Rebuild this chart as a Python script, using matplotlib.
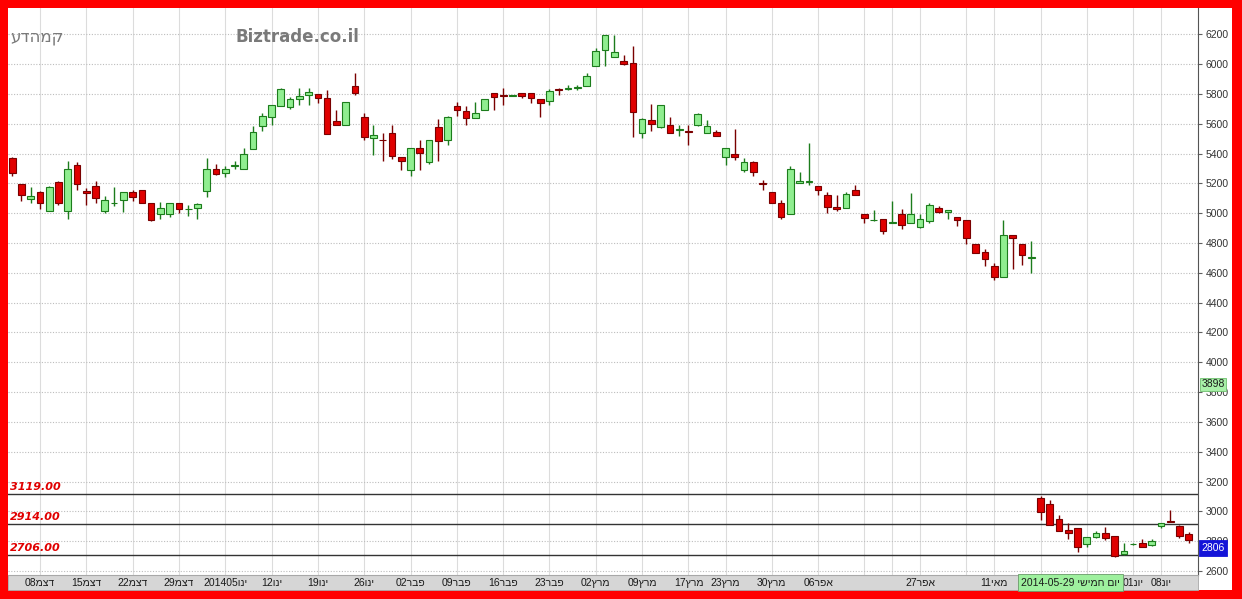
import matplotlib

matplotlib.use("Agg")
import matplotlib.pyplot as plt
import matplotlib.transforms as mtransforms
import numpy as np
from matplotlib.patches import Rectangle

# daily candles, Dec 2013 - Jun 2014 (agorot)
OPEN = [5370, 5196, 5096, 5143, 5016, 5210, 5016, 5326, 5147, 5185,
        5016, 5065, 5091, 5143, 5154, 5065, 4991, 4991, 5069, 5025,
        5036, 5147, 5297, 5270, 5315, 5297, 5430, 5582, 5644, 5716,
        5711, 5765, 5794, 5798, 5772, 5616, 5593, 5854, 5644, 5504,
        5490, 5537, 5377, 5292, 5437, 5341, 5578, 5488, 5716, 5682,
        5638, 5694, 5805, 5790, 5787, 5805, 5809, 5765, 5752, 5830,
        5836, 5841, 5850, 5990, 6091, 6046, 6021, 6006, 5537, 5627,
        5578, 5591, 5560, 5550, 5589, 5537, 5544, 5377, 5397, 5288,
        5341, 5198, 5141, 5069, 4991, 5199, 5210, 5181, 5125, 5042,
        5036, 5152, 4996, 4953, 4958, 4935, 4991, 4935, 4909, 4946,
        5036, 5007, 4976, 4951, 4795, 4739, 4645, 4574, 4851, 4795,
        4700, 3092, 3047, 2946, 2875, 2886, 2781, 2830, 2857, 2834,
        2712, 2778, 2785, 2774, 2904, 2930, 2902, 2848]
HIGH = [5375, 5198, 5174, 5147, 5180, 5219, 5348, 5341, 5170, 5214,
        5114, 5174, 5145, 5158, 5154, 5065, 5076, 5069, 5069, 5054,
        5069, 5370, 5332, 5319, 5348, 5437, 5582, 5671, 5723, 5839,
        5778, 5839, 5839, 5798, 5827, 5694, 5743, 5939, 5671, 5593,
        5537, 5593, 5377, 5437, 5493, 5493, 5633, 5649, 5745, 5716,
        5745, 5765, 5805, 5839, 5792, 5805, 5809, 5765, 5832, 5839,
        5861, 5861, 5943, 6111, 6195, 6195, 6061, 6122, 5638, 5734,
        5725, 5644, 5591, 5593, 5671, 5622, 5560, 5437, 5566, 5368,
        5348, 5225, 5141, 5085, 5315, 5274, 5471, 5181, 5141, 5125,
        5141, 5192, 4996, 5020, 4958, 5080, 5025, 5136, 4991, 5069,
        5051, 5018, 4976, 4951, 4795, 4761, 4668, 4953, 4851, 4795,
        4812, 3103, 3076, 2975, 2920, 2886, 2830, 2870, 2897, 2834,
        2785, 2790, 2815, 2815, 2924, 3009, 2908, 2864]
LOW = [5247, 5080, 5065, 5025, 5016, 5058, 4958, 5158, 5058, 5069,
       5002, 5047, 5009, 5080, 5065, 4946, 4964, 4976, 4998, 4980,
       4962, 5109, 5259, 5243, 5297, 5297, 5430, 5549, 5593, 5716,
       5698, 5727, 5727, 5738, 5533, 5591, 5593, 5794, 5493, 5392,
       5348, 5364, 5292, 5248, 5292, 5332, 5348, 5455, 5653, 5593,
       5638, 5694, 5694, 5727, 5785, 5772, 5738, 5645, 5727, 5794,
       5823, 5823, 5850, 5990, 5988, 6046, 5995, 5511, 5504, 5549,
       5571, 5537, 5520, 5460, 5582, 5537, 5515, 5326, 5359, 5274,
       5252, 5154, 5065, 4962, 4991, 5199, 5192, 5125, 5002, 5013,
       5036, 5125, 4935, 4946, 4857, 4931, 4891, 4935, 4902, 4935,
       4998, 4958, 4913, 4795, 4735, 4645, 4552, 4574, 4628, 4650,
       4596, 2942, 2908, 2868, 2812, 2730, 2763, 2819, 2808, 2691,
       2707, 2772, 2759, 2767, 2886, 2926, 2819, 2785]
CLOSE = [5270, 5125, 5118, 5069, 5176, 5069, 5297, 5196, 5136, 5103,
         5091, 5069, 5143, 5109, 5069, 4953, 5036, 5069, 5029, 5031,
         5062, 5297, 5265, 5297, 5321, 5399, 5544, 5653, 5723, 5832,
         5765, 5783, 5812, 5772, 5533, 5591, 5743, 5805, 5511, 5526,
         5488, 5381, 5350, 5437, 5404, 5493, 5482, 5644, 5689, 5636,
         5671, 5765, 5776, 5789, 5790, 5787, 5772, 5738, 5821, 5825,
         5841, 5845, 5923, 6088, 6195, 6079, 6001, 5676, 5631, 5600,
         5725, 5537, 5560, 5546, 5665, 5587, 5515, 5437, 5375, 5341,
         5274, 5196, 5069, 4976, 5297, 5214, 5212, 5158, 5042, 5025,
         5129, 5125, 4969, 4955, 4880, 4938, 4920, 4991, 4964, 5058,
         5009, 5018, 4953, 4835, 4735, 4690, 4572, 4851, 4835, 4719,
         4700, 2998, 2908, 2868, 2853, 2759, 2830, 2857, 2819, 2700,
         2736, 2781, 2763, 2803, 2919, 2928, 2834, 2806]

# week gridlines (candle index) and the labelled ones
GRID_IDX = [3, 8, 13, 18, 23, 28, 33, 38, 43, 48, 53, 58, 63, 68, 73, 77,
            82, 87, 92, 95, 98, 103, 106, 111, 116, 121, 124]
LABEL_IDX = [3, 8, 13, 18, 23, 28, 33, 38, 43, 48, 53, 58, 63, 68, 73, 77,
             82, 87, 98, 106, 121, 124]
LABEL_DAYS = ["08", "15", "22", "29", "201405", "12", "19", "26", "02", "09",
              "16", "23", "02", "09", "17", "23", "30", "06", "27", "11",
              "01", "08"]
LABEL_MONTHS = ["דצמ", "דצמ", "דצמ", "דצמ", "ינו", "ינו", "ינו", "ינו",
                "פבר", "פבר", "פבר", "פבר", "מרץ", "מרץ", "מרץ", "מרץ",
                "מרץ", "אפר", "אפר", "מאי", "יונ", "יונ"]
Y_TICKS = list(range(2600, 6201, 200))

LEVELS = [3119.00, 2914.00, 2706.00]
MARK_PRICE = 3898
LAST_PRICE = 2806
HIGHLIGHT_IDX = 120
HIGHLIGHT_DATE = "2014-05-29"
HIGHLIGHT_DAY = "יום חמישי"
STOCK_NAME = "קמהדע"
WATERMARK = "Biztrade.co.il"

FONT = ["Liberation Sans", "DejaVu Sans"]
W, H = 1242, 599


def rtl(text):
    # matplotlib has no bidi: flip hebrew so it reads right to left
    return text[::-1]


def run() -> None:
    fig = plt.figure(figsize=(W / 100, H / 100), dpi=100, facecolor="#ff0000")
    fig.patches.append(Rectangle((8 / W, 9 / H), 1224 / W, 582 / H,
                                 transform=fig.transFigure, fc="white",
                                 ec="none", zorder=-2))
    fig.patches.append(Rectangle((8 / W, 9 / H), 1190 / W, 15 / H,
                                 transform=fig.transFigure, fc="#d6d6d6",
                                 ec="#a8a8a8", lw=0.6, zorder=-1))
    ax = fig.add_axes([8 / W, 24 / H, 1190 / W, 567 / H])
    ax.set_facecolor("white")

    n = len(OPEN)
    x = np.arange(n)
    o = np.array(OPEN, float)
    c = np.array(CLOSE, float)
    up = c >= o
    face = np.where(up, "#90ee90", "#e00000")
    edge = np.where(up, "#1c7c1c", "#7a0000")
    ax.vlines(x, LOW, HIGH, colors=edge, lw=1.0, zorder=2)
    heights = np.maximum(np.abs(c - o), 4)
    ax.bar(x, heights, bottom=np.minimum(o, c), width=0.72, color=face,
           edgecolor=edge, lw=0.8, zorder=3)

    for lvl in LEVELS:
        ax.axhline(lvl, color="#333333", lw=1.0, zorder=1.5)
        ax.annotate(f"{lvl:.2f}", xy=(0, lvl), xycoords=("axes fraction", "data"),
                    xytext=(1.5, 1.5), textcoords="offset points", ha="left",
                    va="bottom", color="#e00000", fontsize=8,
                    fontweight="bold", fontstyle="italic",
                    family=["DejaVu Sans"])

    ax.set_xlim(-0.45, n)
    ax.set_ylim(2573, 6376)

    ax.set_xticks(GRID_IDX, minor=True)
    ax.set_xticks(LABEL_IDX)
    ax.set_xticklabels([d + rtl(m) for d, m in zip(LABEL_DAYS, LABEL_MONTHS)],
                       family=FONT, fontsize=7.5, color="#1a1a1a")
    ax.tick_params(axis="x", which="both", length=0, pad=1.8)
    ax.grid(axis="x", which="both", color="#dcdcdc", lw=0.8, ls="-", zorder=0)

    ax.yaxis.tick_right()
    ax.set_yticks(Y_TICKS)
    ax.set_yticklabels([str(v) for v in Y_TICKS], family=FONT, fontsize=7.5,
                       color="#333333")
    ax.tick_params(axis="y", length=3, pad=2.5, color="#606060")
    ax.grid(axis="y", color="#bdbdbd", lw=0.8, ls=(0, (1, 1.5)), zorder=0)
    ax.set_axisbelow(True)

    for side in ("left", "top"):
        ax.spines[side].set_visible(False)
    ax.spines["right"].set_color("#555555")
    ax.spines["bottom"].set_color("#a8a8a8")

    # price flags on the right scale
    ax.annotate(str(MARK_PRICE), xy=(1, MARK_PRICE),
                xycoords=("axes fraction", "data"), xytext=(2.5, -5),
                textcoords="offset points", ha="left", va="center",
                fontsize=7.5, family=FONT, color="#1a1a1a", zorder=6,
                bbox=dict(boxstyle="square,pad=0.15", fc="#a8f0a8",
                          ec="#6fbf6f", lw=0.6), annotation_clip=False)
    ax.annotate(str(LAST_PRICE), xy=(1, LAST_PRICE),
                xycoords=("axes fraction", "data"), xytext=(2.5, -5.5),
                textcoords="offset points", ha="left", va="center",
                fontsize=7.5, family=FONT, color="white", zorder=6,
                bbox=dict(boxstyle="square,pad=0.25", fc="#1414d8",
                          ec="#1414d8", lw=0.6), annotation_clip=False)

    # crosshair date on the time scale
    trans = mtransforms.blended_transform_factory(ax.transData, ax.transAxes)
    ax.text(HIGHLIGHT_IDX - 0.45, -7.5 / 567,
            HIGHLIGHT_DATE + " " + rtl(HIGHLIGHT_DAY), transform=trans,
            ha="right", va="center", fontsize=7.5, family=FONT,
            color="#1a1a1a", zorder=6, clip_on=False,
            bbox=dict(boxstyle="square,pad=0.3", fc="#9ef09e", ec="#6a9a6a",
                      lw=0.6))

    ax.text(0.002, 0.949, rtl(STOCK_NAME), transform=ax.transAxes, ha="left",
            va="center", fontsize=12, color="#7a7a7a", family=["DejaVu Sans"])
    ax.text(0.243, 0.949, WATERMARK, transform=ax.transAxes, ha="center",
            va="center", fontsize=12, fontweight="bold", color="#7a7a7a",
            family=["DejaVu Sans"])

    fig.savefig("out.png", dpi=100, facecolor=fig.get_facecolor())
    plt.close(fig)


if __name__ == "__main__":
    run()
